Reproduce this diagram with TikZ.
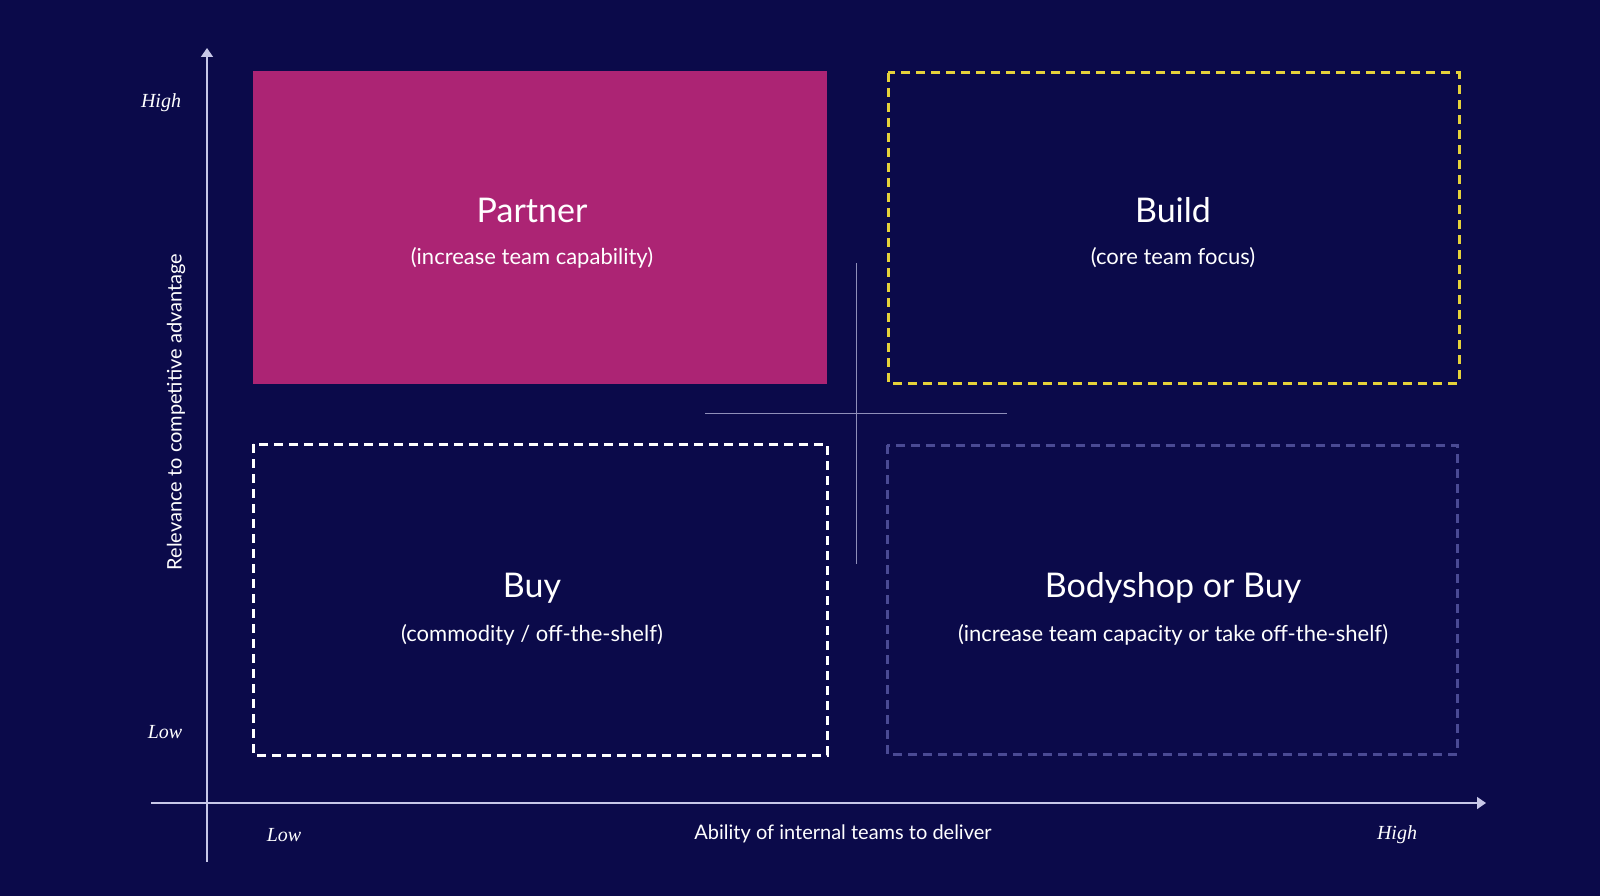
\documentclass[tikz,border=0pt]{standalone}
\usetikzlibrary{arrows.meta}
\usepackage{fontspec}
\setmainfont{Lato}
\newfontfamily\serifit{Liberation Serif}
\definecolor{bg}{HTML}{0B0A4A}
\definecolor{mag}{HTML}{AC2474}
\definecolor{yel}{HTML}{E5D23A}
\definecolor{dim}{HTML}{4A4A94}
\definecolor{axc}{HTML}{C8C8E8}
\begin{document}
\begin{tikzpicture}[x=1pt,y=-1pt,
  ttl/.style={text=white,font=\fontsize{34}{40}\selectfont},
  sub/.style={text=white,font=\fontsize{22}{26}\selectfont},
  lv/.style={text=white,font=\serifit\itshape\fontsize{20}{24}\selectfont},
  axl/.style={text=white,font=\fontsize{20}{24}\selectfont},
  dbox/.style={line width=3pt,dash pattern=on 9pt off 6pt}]
\fill[bg] (0,0) rectangle (1600,896);
\useasboundingbox (0,0) rectangle (1600,896);
\coordinate (yb) at (207,862); \coordinate (yt) at (207,48);
\coordinate (xl) at (151,803); \coordinate (xr) at (1486,803);
\draw[axc,line width=1.5pt,-{Triangle[width=12pt,length=9pt]}] (yb) -- (yt);
\draw[axc,line width=1.5pt,-{Triangle[width=12pt,length=9pt]}] (xl) -- (xr);
\fill[mag] (253,71) rectangle (827,384);
\draw[dbox,yel] (888,73) rectangle (1459,383);
\draw[dbox,white] (253,444) rectangle (827,755);
\draw[dbox,dim] (887,445) rectangle (1457,754);
\coordinate (vt) at (856,263); \coordinate (vb) at (856,564);
\coordinate (hl) at (705,413); \coordinate (hr) at (1007,413);
\draw[axc!70!bg,line width=1pt] (vt) -- (vb);
\draw[axc!70!bg,line width=1pt] (hl) -- (hr);
\node[ttl] (p) at (532,210) {Partner};
\node[sub] (ps) at (532,258) {(increase team capability)};
\node[ttl] (b) at (1173,210) {Build};
\node[sub] (bs) at (1173,258) {(core team focus)};
\node[ttl] (u) at (532,588) {Buy};
\node[sub] (us) at (532,635) {(commodity / off-the-shelf)};
\node[ttl] (o) at (1173,588) {Bodyshop or Buy};
\node[sub] (os) at (1173,635) {(increase team capacity or take off-the-shelf)};
\node[lv] (hy) at (161,103) {High};
\node[lv] (ly) at (165,732) {Low};
\node[lv] (lx) at (284,835) {Low};
\node[lv] (hx) at (1397,835) {High};
\node[axl] (xt) at (843,834) {Ability of internal teams to deliver};
\node[axl,rotate=90] (yt2) at (176,412) {Relevance to competitive advantage};
\end{tikzpicture}
\end{document}
